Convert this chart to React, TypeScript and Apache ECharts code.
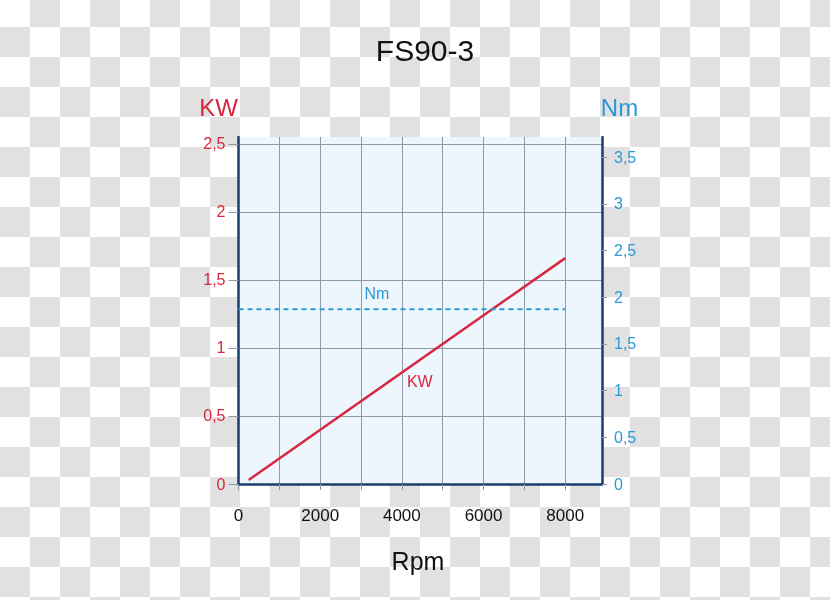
import React, { useEffect, useRef } from "react";
import * as echarts from "echarts";

const rpmTicksMax = 8900;
const kwSeries: [number, number][] = [
  [250, 0.03],
  [8000, 1.66],
];
const nmSeries: [number, number][] = [
  [0, 1.87],
  [8000, 1.87],
];
const kwLabelAt: [number, number] = [4440, 0.75];
const nmLabelAt: [number, number] = [3390, 1.4];

const RED = "#d7263d";
const BLUE = "#2a9ad4";
const NAVY = "#1b3d6d";
const GRID = "#8e9aa6";
const SANS = "'Liberation Sans', Arial, sans-serif";

const fmt = (v: number) => String(v).replace(".", ",");

export default function App() {
  const ref = useRef<HTMLDivElement>(null);
  useEffect(() => {
    if (!ref.current) return;
    const chart = echarts.init(ref.current, undefined, { renderer: "svg" });
    chart.setOption({
      animation: false,
      backgroundColor: "transparent",
      title: {
        text: "FS90-3",
        left: 420,
        top: 30,
        textAlign: "center",
        textStyle: { fontFamily: SANS, fontSize: 30, fontWeight: "normal", color: "#111" },
      },
      graphic: [
        { type: "text", x: 218.5, y: 107, style: { text: "KW", fill: RED, font: `24px ${SANS}`, align: "center", verticalAlign: "middle" } },
        { type: "text", x: 619.5, y: 107, style: { text: "Nm", fill: BLUE, font: `24px ${SANS}`, align: "center", verticalAlign: "middle" } },
        { type: "text", x: 418, y: 561, style: { text: "Rpm", fill: "#111", font: `25px ${SANS}`, align: "center", verticalAlign: "middle" } },
      ],
      grid: {
        left: 238.5,
        right: 228,
        top: 137,
        bottom: 116,
        show: true,
        backgroundColor: "#edf6fc",
        borderWidth: 0,
      },
      xAxis: {
        type: "value",
        min: 0,
        max: rpmTicksMax,
        interval: 1000,
        axisLine: { show: true, lineStyle: { color: NAVY, width: 2.5 } },
        axisTick: { show: true, length: 6, lineStyle: { color: GRID } },
        splitLine: { show: true, lineStyle: { color: GRID, width: 1 }, showMinLine: false, showMaxLine: false },
        axisLabel: {
          margin: 23,
          showMaxLabel: false,
          fontFamily: SANS,
          fontSize: 17,
          color: "#111",
          formatter: (v: number) => (v % 2000 === 0 ? String(v) : ""),
        },
      },
      yAxis: [
        {
          type: "value",
          min: 0,
          max: 2.55,
          interval: 0.5,
          position: "left",
          axisLine: { show: true, lineStyle: { color: NAVY, width: 2.5 } },
          axisTick: { show: true, length: 10, lineStyle: { color: GRID } },
          splitLine: { show: true, lineStyle: { color: GRID, width: 1 }, showMinLine: false, showMaxLine: false },
          axisLabel: {
            margin: 13,
            showMaxLabel: false,
            fontFamily: SANS,
            fontSize: 16,
            color: RED,
            formatter: fmt,
          },
        },
        {
          type: "value",
          min: 0,
          max: 3.715,
          interval: 0.5,
          position: "right",
          axisLine: { show: true, lineStyle: { color: NAVY, width: 2.5 } },
          axisTick: { show: true, length: 5, lineStyle: { color: GRID } },
          splitLine: { show: false },
          axisLabel: {
            margin: 12,
            showMaxLabel: false,
            fontFamily: SANS,
            fontSize: 16,
            color: BLUE,
            formatter: fmt,
          },
        },
      ],
      series: [
        {
          name: "KW",
          type: "line",
          yAxisIndex: 0,
          data: kwSeries,
          symbol: "none",
          lineStyle: { color: RED, width: 2.5 },
          markPoint: {
            symbol: "circle",
            symbolSize: 0,
            data: [{ coord: kwLabelAt, value: "KW" }],
            label: { show: true, position: "inside", formatter: "KW", color: RED, fontFamily: SANS, fontSize: 16 },
          },
        },
        {
          name: "Nm",
          type: "line",
          yAxisIndex: 1,
          data: nmSeries,
          symbol: "none",
          lineStyle: { color: BLUE, width: 2, type: [5, 4] },
          markPoint: {
            symbol: "circle",
            symbolSize: 0,
            data: [{ coord: [nmLabelAt[0], (nmLabelAt[1] * 3.715) / 2.55], value: "Nm" }],
            label: { show: true, position: "inside", formatter: "Nm", color: BLUE, fontFamily: SANS, fontSize: 16 },
          },
        },
      ],
    });
    return () => chart.dispose();
  }, []);
  return (
    <div
      style={{
        position: "fixed",
        left: 0,
        top: 0,
        width: 830,
        height: 600,
        background: "repeating-conic-gradient(#e1e1e1 0 25%, #ffffff 0 50%) 0 -3px / 60px 60px",
      }}
    >
      <div ref={ref} style={{ width: 830, height: 600 }} />
    </div>
  );
}
